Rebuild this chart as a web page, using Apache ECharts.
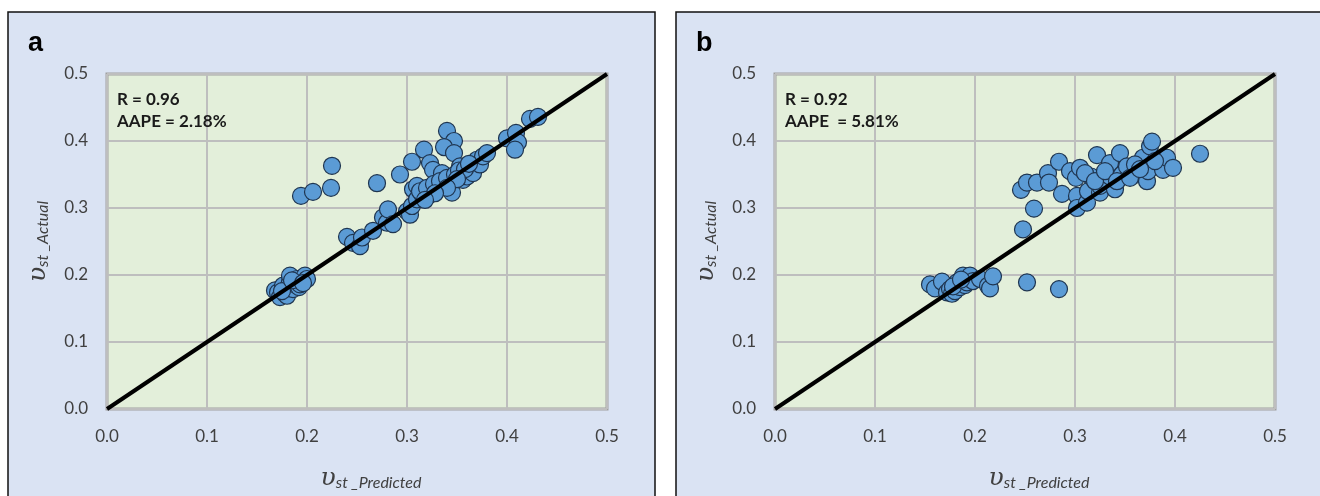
<!DOCTYPE html>
<html>
<head>
<meta charset="utf-8">
<script src="https://cdn.jsdelivr.net/npm/echarts@6/dist/echarts.min.js"></script>
<style>html,body{margin:0;padding:0;background:#fff}#c{width:1320px;height:496px}</style>
</head>
<body>
<div id="c"></div>
<script>
// ---- data ----
const tickLabels = ['0.0', '0.1', '0.2', '0.3', '0.4', '0.5'];
const panelLabels = ['a', 'b'];
const statsA = ['R = 0.96', 'AAPE = 2.18%'];
const statsB = ['R = 0.92', 'AAPE  = 5.81%'];
const identityLine = [[0, 0], [0.5, 0.5]];

const aPredicted = [
  0.168,0.171,0.173,0.176,0.178,0.180,0.180,0.183,0.183,0.186,0.188,0.190,0.192,0.193,0.195,0.198,0.200,0.175,0.185,0.196,
  0.194,0.206,0.224,0.225,0.270,0.293,0.305,0.317,0.340,0.347,0.337,0.347,0.323,0.326,0.335,0.353,
  0.240,0.246,0.253,0.255,0.266,0.276,0.280,0.281,0.286,0.300,0.303,0.305,0.306,0.310,0.310,0.316,0.323,0.330,0.336,0.343,
  0.345,0.356,0.360,0.363,0.366,0.370,0.373,0.376,0.380,0.313,0.320,0.327,0.333,0.340,0.348,0.352,0.358,0.362,0.350,0.340,
  0.328,0.318,
  0.400,0.409,0.411,0.408,0.423,0.431
];
const aActual = [
  0.177,0.174,0.167,0.184,0.172,0.169,0.180,0.191,0.199,0.179,0.186,0.194,0.182,0.186,0.191,0.199,0.194,0.176,0.192,0.188,
  0.318,0.324,0.330,0.363,0.337,0.350,0.369,0.387,0.415,0.400,0.391,0.382,0.367,0.357,0.352,0.362,
  0.257,0.248,0.243,0.256,0.266,0.286,0.278,0.298,0.276,0.295,0.290,0.303,0.328,0.333,0.313,0.318,0.320,0.328,0.333,0.338,
  0.323,0.342,0.347,0.360,0.352,0.372,0.365,0.377,0.382,0.325,0.330,0.336,0.340,0.345,0.350,0.356,0.358,0.366,0.343,0.330,
  0.322,0.312,
  0.404,0.412,0.398,0.387,0.433,0.436
];

const bPredicted = [
  0.155,0.160,0.167,0.172,0.175,0.177,0.180,0.182,0.185,0.188,0.190,0.192,0.195,0.198,0.205,0.213,0.215,0.218,0.178,0.186,
  0.252,0.284,0.248,0.259,
  0.246,0.252,0.262,0.273,0.274,0.284,0.287,0.295,0.301,0.302,0.302,0.305,0.312,0.313,0.316,0.322,0.325,0.325,0.335,0.335,
  0.340,0.345,0.347,0.352,0.362,0.368,0.372,0.373,0.375,0.377,0.387,0.388,0.392,0.398,0.425,0.310,0.320,0.330,0.342,0.355,
  0.360,0.380,0.365
];
const bActual = [
  0.186,0.180,0.190,0.174,0.179,0.172,0.176,0.189,0.182,0.199,0.185,0.189,0.199,0.191,0.194,0.184,0.180,0.198,0.183,0.193,
  0.189,0.179,0.268,0.299,
  0.327,0.338,0.338,0.352,0.338,0.369,0.321,0.355,0.345,0.318,0.300,0.360,0.308,0.325,0.347,0.379,0.323,0.333,0.347,0.367,
  0.328,0.382,0.350,0.362,0.350,0.375,0.340,0.355,0.392,0.399,0.367,0.357,0.375,0.360,0.381,0.352,0.340,0.355,0.340,0.345,
  0.365,0.370,0.358
];

// ---- chart ----
const chart = echarts.init(document.getElementById('c'), null, {renderer: 'canvas'});
const zip = (xs, ys) => xs.map((x, i) => [x, ys[i]]);
const font = 'Lato, "Liberation Sans", sans-serif';

const nameRich = {
  u: {fontFamily: '"DejaVu Serif", serif', fontStyle: 'italic', fontSize: 25, color: '#404040', verticalAlign: 'bottom'},
  s: {fontFamily: font, fontStyle: 'italic', fontSize: 16, color: '#404040', verticalAlign: 'bottom', padding: [16, 0, 0, 0]}
};

function xAxis(gi) {
  return {
    gridIndex: gi, type: 'value', min: 0, max: 0.5, interval: 0.1,
    axisLine: {show: false}, axisTick: {show: false},
    splitLine: {lineStyle: {color: '#BEBEBE', width: 2}},
    axisLabel: {margin: 19, fontFamily: font, fontSize: 17, color: '#404040',
      formatter: v => tickLabels[Math.round(v * 10)]},
    name: '{u|υ}{s|st _Predicted}', nameLocation: 'middle', nameGap: 50,
    nameTextStyle: {rich: nameRich, padding: [0, 0, 0, 28]}
  };
}
function yAxis(gi) {
  return {
    gridIndex: gi, type: 'value', min: 0, max: 0.5, interval: 0.1,
    axisLine: {show: false}, axisTick: {show: false},
    splitLine: {lineStyle: {color: '#BEBEBE', width: 2}},
    axisLabel: {margin: 19, fontFamily: font, fontSize: 17, color: '#404040',
      formatter: v => tickLabels[Math.round(v * 10)]},
    name: '{u|υ}{s|st _Actual}', nameLocation: 'middle', nameGap: 56, nameRotate: 90,
    nameTextStyle: {rich: nameRich}
  };
}
const gridCommon = {top: 74, height: 336.5, width: 500, show: true,
  backgroundColor: '#E3EFDA', borderColor: '#A0A0A0', borderWidth: 3};

function scatter(gi, data) {
  return {type: 'scatter', xAxisIndex: gi, yAxisIndex: gi, data: data, symbolSize: 17, z: 3,
    itemStyle: {color: '#5B9BD5', borderColor: '#1F3550', borderWidth: 1.2, opacity: 1}};
}
function diag(gi) {
  return {type: 'line', xAxisIndex: gi, yAxisIndex: gi, data: identityLine, symbol: 'none', z: 5,
    lineStyle: {color: '#000', width: 4}};
}
function statText(x, lines) {
  return lines.map((t, i) => ({type: 'text', left: x, top: 91 + i * 22, z: 100,
    style: {text: t, font: 'bold 17px ' + font, fill: '#1a1a1a'}}));
}

chart.setOption({
  animation: false,
  backgroundColor: '#fff',
  grid: [Object.assign({left: 107}, gridCommon), Object.assign({left: 775}, gridCommon)],
  xAxis: [xAxis(0), xAxis(1)],
  yAxis: [yAxis(0), yAxis(1)],
  series: [scatter(0, zip(aPredicted, aActual)), diag(0), scatter(1, zip(bPredicted, bActual)), diag(1)],
  graphic: [
    {type: 'rect', z: -10, shape: {x: 8, y: 12, width: 647, height: 500}, style: {fill: '#DAE3F3', stroke: '#111', lineWidth: 1.5}},
    {type: 'rect', z: -10, shape: {x: 676, y: 12, width: 660, height: 500}, style: {fill: '#DAE3F3', stroke: '#111', lineWidth: 1.5}},
    {type: 'text', left: 28, top: 30, z: 100, style: {text: panelLabels[0], font: 'bold 27px "Liberation Sans", Arial, sans-serif', fill: '#000'}},
    {type: 'text', left: 696, top: 30, z: 100, style: {text: panelLabels[1], font: 'bold 27px "Liberation Sans", Arial, sans-serif', fill: '#000'}}
  ].concat(statText(117, statsA), statText(785, statsB))
});
</script>
</body>
</html>
